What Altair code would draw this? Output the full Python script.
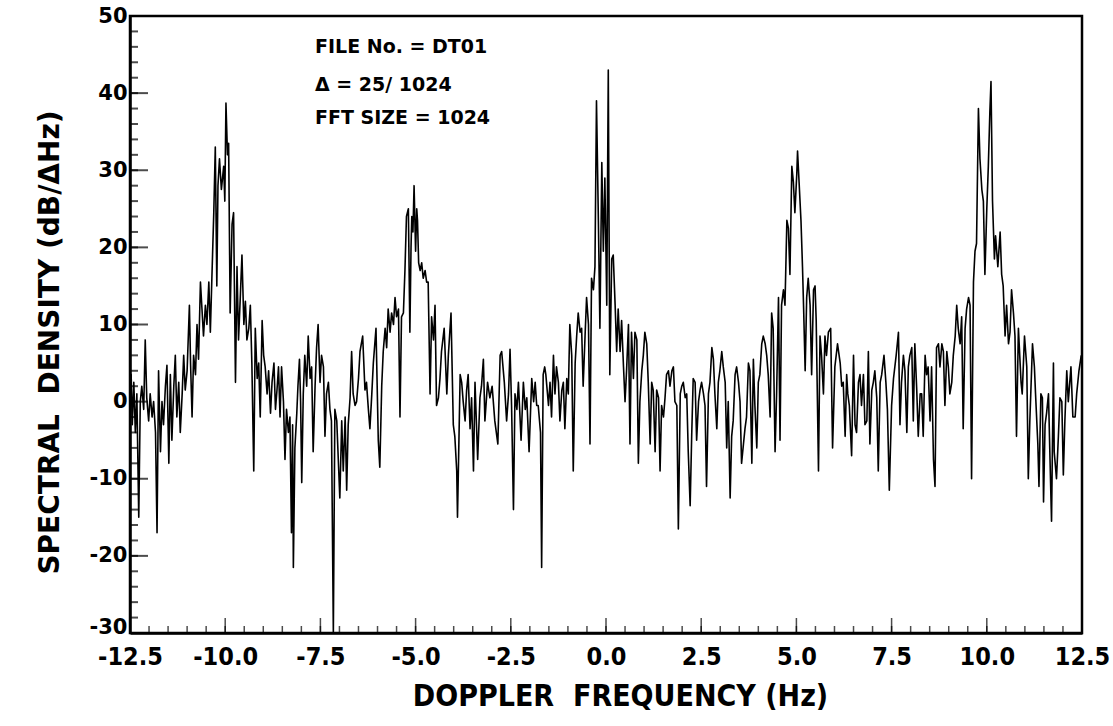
import altair as alt
import pandas as pd

# ---- spectrum as (Doppler frequency Hz, dB/ΔHz) ----
seg_a = [(-12.50, 1), (-12.47, 3.5), (-12.44, -3), (-12.40, 2.5), (-12.36, -4), (-12.32, 1),
         (-12.27, -15), (-12.23, 0), (-12.19, 2), (-12.14, -1), (-12.10, 8), (-12.06, 0.5),
         (-12.01, -2.5), (-11.97, 1), (-11.92, -2), (-11.88, 0), (-11.83, -4), (-11.79, -17),
         (-11.75, 4), (-11.70, -6.5), (-11.66, 0), (-11.62, -3), (-11.57, 2), (-11.53, 4.7),
         (-11.48, -8), (-11.44, 3.5), (-11.40, -5), (-11.35, 2), (-11.31, 6), (-11.27, -2),
         (-11.22, 2.5), (-11.18, -4), (-11.13, 1), (-11.09, 6), (-11.05, 1.5), (-11.00, 4),
         (-10.94, 12.5), (-10.91, 5), (-10.87, -2), (-10.83, 6), (-10.78, 3.5), (-10.74, 10),
         (-10.70, 5.5), (-10.65, 15.5), (-10.61, 12), (-10.57, 8.5), (-10.52, 12.5), (-10.48, 10),
         (-10.43, 15.5), (-10.39, 9), (-10.35, 16), (-10.30, 24.5), (-10.26, 33), (-10.22, 15),
         (-10.19, 28), (-10.15, 31.5), (-10.10, 27.5), (-10.07, 29), (-10.04, 30.5), (-10.01, 26),
         (-9.98, 38.7), (-9.94, 32), (-9.91, 33.5), (-9.87, 11.5), (-9.82, 23), (-9.78, 24.5),
         (-9.73, 2.5), (-9.69, 17.5), (-9.65, 8), (-9.60, 14), (-9.56, 19), (-9.51, 10),
         (-9.47, 13), (-9.43, 8), (-9.38, 9.5), (-9.34, 12.5), (-9.30, 5), (-9.25, -9),
         (-9.21, 9.5), (-9.16, 3), (-9.12, 5), (-9.08, -2), (-9.03, 10.5), (-8.99, 6),
         (-8.95, 4.5), (-8.90, 1), (-8.86, 4), (-8.81, -1.5)]

seg_b = [(-8.77, 2.5), (-8.72, 5), (-8.68, -1), (-8.64, 1.5), (-8.60, 4.5), (-8.56, -2),
         (-8.52, 4.5), (-8.47, 0), (-8.43, -7.5), (-8.39, -1), (-8.34, -4), (-8.30, -2),
         (-8.26, -17), (-8.23, -3), (-8.21, -21.5), (-8.17, -6), (-8.12, -1.5), (-8.09, 2),
         (-8.05, 5.5), (-8.02, 0), (-7.99, -10.5), (-7.95, 1), (-7.91, 6), (-7.86, 2),
         (-7.82, 8.5), (-7.77, 3), (-7.73, 4.5), (-7.69, -6.5), (-7.64, 2), (-7.60, 7),
         (-7.56, 10), (-7.51, 2.5), (-7.47, 6), (-7.42, 4.5), (-7.38, -4.5), (-7.34, 1),
         (-7.29, 2.5), (-7.25, -1), (-7.21, -2.5), (-7.16, -30), (-7.12, -1), (-7.07, -2.5),
         (-7.03, -7.5), (-6.99, -12.5), (-6.94, -2.5), (-6.90, -9), (-6.85, -2), (-6.81, -11.5),
         (-6.77, -3), (-6.72, 0.5), (-6.68, 6.5), (-6.64, 1), (-6.59, -0.5), (-6.55, 0),
         (-6.50, 3), (-6.46, 6.5), (-6.39, 8.5), (-6.33, 1.5), (-6.29, 2.5), (-6.24, -1),
         (-6.20, -3.5), (-6.15, 1), (-6.11, 5), (-6.04, 9.5), (-5.98, -5), (-5.94, -8.5),
         (-5.89, 2), (-5.85, 6.5), (-5.80, 9.5), (-5.76, 7), (-5.72, 12), (-5.67, 9),
         (-5.63, 11.5), (-5.58, 10), (-5.54, 13.5), (-5.50, 11), (-5.45, 12), (-5.41, -2),
         (-5.37, 11), (-5.32, 11.5), (-5.28, 17), (-5.24, 24), (-5.19, 25)]

seg_c = [(-5.15, 9), (-5.12, 20), (-5.10, 24), (-5.07, 22), (-5.04, 28), (-5.00, 19.5),
         (-4.97, 25), (-4.95, 23.5), (-4.92, 18), (-4.88, 17), (-4.84, 18), (-4.80, 16),
         (-4.75, 17), (-4.71, 15.5), (-4.67, 15.5), (-4.62, 1), (-4.58, 11), (-4.53, 8),
         (-4.49, 12.5), (-4.45, -0.5), (-4.40, 0.5), (-4.36, 3), (-4.32, 6.5), (-4.25, 9.5),
         (-4.18, 1), (-4.14, 6), (-4.07, 11.5), (-4.01, -3), (-3.97, -4.5), (-3.92, -9),
         (-3.90, -15), (-3.83, 3.5), (-3.79, 2.5), (-3.75, 0), (-3.70, -2.5), (-3.66, 1.5),
         (-3.62, 3.5), (-3.57, -3.5), (-3.53, 0.5), (-3.48, -9), (-3.44, 2.5), (-3.37, -7.5),
         (-3.31, 0.5), (-3.27, 2), (-3.22, 5.5), (-3.18, -2.5), (-3.11, 2.5), (-3.05, 0.5),
         (-2.99, 2), (-2.92, -2.5), (-2.84, -5.5), (-2.78, 6), (-2.74, 6.5), (-2.67, 2.5),
         (-2.61, -2.5), (-2.56, 1), (-2.52, 6.8), (-2.48, -0.5), (-2.43, -14), (-2.39, 1),
         (-2.34, -1), (-2.30, 2.5), (-2.23, -5), (-2.17, 2.5), (-2.12, -1), (-2.08, 0.5),
         (-2.02, -6.5), (-1.95, 3), (-1.90, 0), (-1.86, 2.5), (-1.82, -0.5), (-1.78, -0.5),
         (-1.72, -4), (-1.69, -21.5), (-1.65, 3.5)]

seg_d = [(-1.61, 4.5), (-1.58, 3.5), (-1.51, -0.5), (-1.47, 2.5), (-1.43, -2), (-1.38, 6),
         (-1.34, 1), (-1.30, 4.5), (-1.25, 2.5), (-1.21, -2.5), (-1.16, 1.5), (-1.12, 2.5),
         (-1.08, -3.5), (-1.03, 3), (-0.99, 1), (-0.95, 10), (-0.90, 6), (-0.86, -9),
         (-0.81, 5), (-0.77, 8.5), (-0.73, 11.5), (-0.68, 9), (-0.64, 9.5), (-0.60, 2),
         (-0.55, 8.5), (-0.51, 13.5), (-0.46, 10), (-0.42, -5.5), (-0.38, 16), (-0.33, 14.5),
         (-0.29, 17.5), (-0.25, 39), (-0.20, 23.5), (-0.16, 9.5), (-0.11, 31), (-0.07, 19.5),
         (-0.03, 29), (0.02, 12.5), (0.06, 43), (0.10, 3.5), (0.15, 18.5), (0.19, 19),
         (0.24, 12.5), (0.28, 6.5), (0.32, 12), (0.37, 6.5), (0.41, 10.5), (0.46, 4.5),
         (0.50, 0), (0.54, 4), (0.59, 10), (0.63, -5.5), (0.67, 9), (0.72, 3), (0.76, 9),
         (0.81, 8), (0.85, -8), (0.89, 0), (0.94, 4), (0.98, 6), (1.02, 9), (1.07, 7.5),
         (1.11, 2.5), (1.16, -5.5), (1.20, 2.5), (1.24, 1.5), (1.29, -6.5), (1.33, 1.5),
         (1.38, 0.5), (1.42, -9), (1.46, -0.5), (1.51, -2), (1.55, 0.5), (1.59, 3.5),
         (1.64, 4), (1.68, 2), (1.73, 4), (1.77, 4.5), (1.81, 0), (1.86, -0.5), (1.90, -16.5)]

seg_e = [(1.95, 1), (1.99, 2), (2.03, 2.5), (2.08, 0.5), (2.12, 1), (2.16, -6.5), (2.21, -13.5),
         (2.25, -4.5), (2.29, 3), (2.34, 2.5), (2.38, -5), (2.43, 0), (2.47, 1.5), (2.51, 2.5),
         (2.56, 1), (2.60, -0.5), (2.64, -11), (2.69, 1), (2.73, 2.5), (2.78, 7), (2.82, 5.5),
         (2.86, 1), (2.91, -3.5), (2.95, 2.5), (2.99, 4), (3.04, 6.5), (3.08, 4.5), (3.13, 2.5),
         (3.17, -6), (3.21, 0), (3.26, -12.5), (3.30, -4.5), (3.34, -2.5), (3.39, 3.5),
         (3.43, 4.5), (3.48, 2.5), (3.52, 0), (3.56, -8), (3.61, -5.5), (3.65, -3.5),
         (3.69, -2), (3.74, 5), (3.78, 4), (3.83, -8), (3.87, 5.5), (3.91, -0.5), (3.96, -6),
         (4.00, 2.5), (4.04, 3.5), (4.09, 7.5), (4.13, 8.5), (4.18, 7.5), (4.22, 6), (4.26, 3.5),
         (4.31, -2), (4.35, 11.5), (4.39, 9.5), (4.44, -6.5), (4.48, 1), (4.53, 13.5), (4.57, -5),
         (4.61, 12.5), (4.66, 14.5), (4.70, 12.5), (4.75, 23.5), (4.79, 22.5), (4.83, 16.5),
         (4.88, 30.5), (4.92, 28.5), (4.96, 24.5), (5.01, 29.5), (5.03, 32.5), (5.07, 28.5),
         (5.12, 23.5), (5.16, 17.5), (5.19, 12), (5.23, 4), (5.27, 13.5), (5.31, 16),
         (5.36, 12.5), (5.40, 3.5), (5.45, 14.5)]

seg_f = [(5.49, 15), (5.52, 10.5), (5.58, -9), (5.62, 8.5), (5.66, 6), (5.71, 1), (5.75, 8.5),
         (5.79, 6), (5.84, 9), (5.90, 9.5), (5.95, -6), (6.01, 4.5), (6.08, 7.5), (6.15, 5),
         (6.19, 2), (6.23, 2.5), (6.28, -4.5), (6.32, 3.5), (6.35, 1), (6.39, -0.5), (6.45, -7),
         (6.50, 6), (6.54, -3), (6.58, -4), (6.63, 2.5), (6.67, 3.5), (6.71, -0.5), (6.76, 3.5),
         (6.80, -3), (6.85, -2.5), (6.89, 6.5), (6.93, -5.5), (6.98, 1.5), (7.02, 2.5), (7.06, 4),
         (7.11, 0.5), (7.15, -9), (7.20, 2.5), (7.24, 3.5), (7.30, 6), (7.35, 2.5), (7.39, -1),
         (7.44, -11.5), (7.50, -0.5), (7.55, 3), (7.62, 6), (7.68, 9), (7.72, -3), (7.76, 2.5),
         (7.81, 6), (7.85, 4), (7.90, -4), (7.94, 4.5), (7.98, 6), (8.03, 7), (8.07, -2.5),
         (8.11, 7.5), (8.16, 1.5), (8.20, -4.5), (8.25, 1), (8.29, 1), (8.33, -4.5), (8.38, 6),
         (8.42, 3.5), (8.46, 4.5), (8.51, -2.5), (8.55, 4.5), (8.60, -7.5), (8.64, -11),
         (8.68, 7), (8.73, 7.5), (8.77, 4.5), (8.82, 7.5), (8.86, 6.5), (8.90, -0.5),
         (8.95, 6.5), (8.99, 4.5)]

seg_g = [(9.03, 1), (9.08, 2.5), (9.12, 6), (9.17, 8.5), (9.21, 12.5), (9.25, 9.5), (9.30, 7.5),
         (9.34, 11), (9.38, -3.5), (9.43, 9.5), (9.47, 12), (9.52, 13.5), (9.56, 12.5),
         (9.60, -10), (9.65, 15.5), (9.69, 19.5), (9.73, 20.5), (9.78, 38), (9.82, 31.5),
         (9.87, 27.5), (9.91, 26), (9.95, 16.5), (10.00, 25), (10.04, 30.5), (10.08, 37.5),
         (10.11, 41.5), (10.15, 26), (10.20, 18.5), (10.23, 21.5), (10.29, 17.5), (10.35, 22),
         (10.39, 16.5), (10.43, 15), (10.48, 8.5), (10.52, 12.5), (10.57, 7.5), (10.61, 9),
         (10.65, 14.5), (10.70, 11.5), (10.74, 8.5), (10.78, -4.5), (10.83, 9.5), (10.90, 2.5),
         (10.93, 1), (10.99, 8.5), (11.05, 4.5), (11.09, -10), (11.13, -2.5), (11.20, 7.5),
         (11.25, 4.5), (11.28, 1), (11.34, -5.5), (11.37, -11), (11.42, 1), (11.46, 0.5),
         (11.49, -13), (11.53, -3), (11.57, -1.5), (11.62, 1), (11.66, -7.5), (11.70, -15.5),
         (11.75, 5), (11.77, -6.5), (11.83, -10), (11.88, -4.5), (11.92, 0.5), (11.97, 0),
         (12.01, -9.5), (12.05, -2.5), (12.10, 4), (12.14, 0), (12.21, 4.5), (12.26, -2),
         (12.32, -2), (12.36, 1), (12.42, 4), (12.48, 6)]

# ---- axes ----
x_label_values = [-12.5, -10.0, -7.5, -5.0, -2.5, 0.0, 2.5, 5.0, 7.5, 10.0, 12.5]
x_minor_ticks = [v / 2 for v in range(-25, 26)]
y_label_values = [-30, -20, -10, 0, 10, 20, 30, 40, 50]
y_minor_ticks = list(range(-30, 51, 2))

info_lines = ["FILE No. = DT01", "Δ = 25/ 1024", "FFT SIZE = 1024"]

rows = seg_a + seg_b + seg_c + seg_d + seg_e + seg_f + seg_g
df = pd.DataFrame(rows, columns=["hz", "db"])

W, H = 952, 617
BOLD_WIDE = "DejaVu Sans"
NARROW = "Liberation Sans Narrow, DejaVu Sans Condensed, Arial Narrow, sans-serif"
HYPHEN = "replace(datum.label, '\u2212', '-')"

xs = alt.Scale(domain=[-12.5, 12.5], nice=False, zero=False)
ys = alt.Scale(domain=[-30, 50], nice=False, zero=False)

x_axis = alt.Axis(
    values=x_label_values, format=".1f", labelExpr=HYPHEN, tickSize=0, grid=False,
    domainColor="black", domainWidth=2.5,
    labelFont=NARROW, labelFontSize=25, labelFontWeight="bold", labelColor="black",
    labelPadding=11, labelFlush=False, labelOverlap=False,
    title="DOPPLER\u00a0\u00a0FREQUENCY\u00a0(Hz)", titleFont=NARROW, titleFontSize=30,
    titleFontWeight="bold", titleColor="black",
    titleX=490, titleY=63, titleBaseline="middle", titleAlign="center")

y_axis = alt.Axis(
    values=y_label_values, labelExpr=HYPHEN, tickSize=0, grid=False,
    domainColor="black", domainWidth=2.5,
    labelFont=BOLD_WIDE, labelFontSize=21, labelFontWeight="bold", labelColor="black",
    labelPadding=3, labelFlush=False, labelOverlap=False,
    labelBaseline={"condition": {"test": "datum.value === -30", "value": "alphabetic"},
                   "value": "middle"},
    title="SPECTRAL\u00a0\u00a0DENSITY\u00a0(dB/\u0394Hz)", titleFont=BOLD_WIDE, titleFontSize=28,
    titleFontWeight="bold", titleColor="black",
    titleX=-80, titleY=326, titleAngle=270, titleBaseline="middle", titleAlign="center")

line = alt.Chart(df).mark_line(
    color="black", strokeWidth=1.6, strokeJoin="round", clip=True
).encode(
    x=alt.X("hz:Q", scale=xs, axis=x_axis),
    y=alt.Y("db:Q", scale=ys, axis=y_axis),
)

y_minor = alt.Chart(pd.DataFrame({"db": y_minor_ticks})).mark_tick(
    orient="horizontal", size=8, thickness=2, color="black", xOffset=4
).encode(y=alt.Y("db:Q", scale=ys, axis=y_axis), x=alt.value(0))

y_major = alt.Chart(pd.DataFrame({"db": y_label_values})).mark_tick(
    orient="horizontal", size=18, thickness=2, color="black", xOffset=9
).encode(y=alt.Y("db:Q", scale=ys, axis=y_axis), x=alt.value(0))

x_minor = alt.Chart(pd.DataFrame({"hz": x_minor_ticks})).mark_tick(
    orient="vertical", size=7, thickness=1.5, color="black", yOffset=-3.5
).encode(x=alt.X("hz:Q", scale=xs, axis=x_axis), y=alt.value(H))

x_major = alt.Chart(pd.DataFrame({"hz": x_label_values})).mark_tick(
    orient="vertical", size=15, thickness=1.5, color="black", yOffset=-7.5
).encode(x=alt.X("hz:Q", scale=xs, axis=x_axis), y=alt.value(H))

info_y = [31, 69, 102]
info = [
    alt.Chart(pd.DataFrame({"t": [txt]})).mark_text(
        align="left", baseline="middle", font=BOLD_WIDE, fontSize=19,
        fontWeight="bold", color="black"
    ).encode(text="t:N", x=alt.value(185), y=alt.value(yy))
    for txt, yy in zip(info_lines, info_y)
]

chart = alt.layer(line, y_minor, y_major, x_minor, x_major, *info).properties(
    width=W, height=H,
    padding={"left": 130, "top": 16, "right": 31, "bottom": 93},
    autosize=alt.AutoSizeParams(type="none"),
    background="white",
).configure_view(stroke="black", strokeWidth=2.5)

chart.save("out.html", embed_options={"renderer": "svg", "actions": False})
